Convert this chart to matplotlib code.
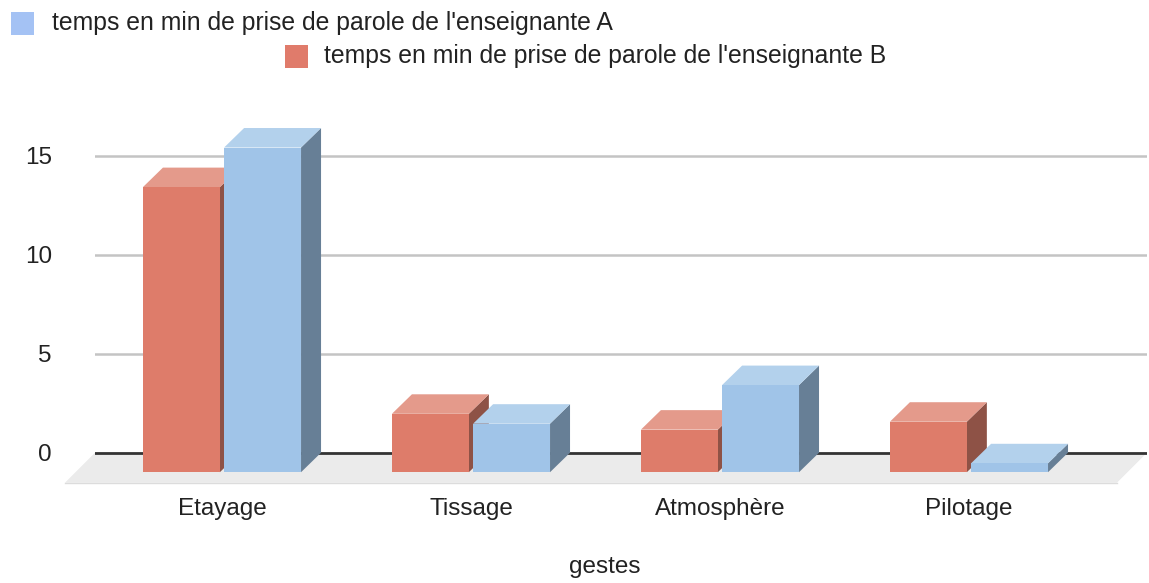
import matplotlib
matplotlib.use("Agg")
import matplotlib.pyplot as plt
from matplotlib.patches import Polygon, Rectangle
import numpy as np

plt.rcParams["font.family"] = ["Liberation Sans", "DejaVu Sans"]

# data
gestes = ["Etayage", "Tissage", "Atmosphère", "Pilotage"]
prof_a = [16.4, 2.45, 4.4, 0.45]
prof_b = [14.4, 2.95, 2.15, 2.55]
label_a = "temps en min de prise de parole de l'enseignante A"
label_b = "temps en min de prise de parole de l'enseignante B"
yticks = [0, 5, 10, 15]

# colours: front, top, side
col_a = ("#a0c4e8", "#b3d1ec", "#677f96")
col_b = ("#de7c6a", "#e49a8b", "#8e5246")

W, H = 1149, 583
fig = plt.figure(figsize=(W / 100, H / 100), dpi=100)
# axes pixel box: x 95..1147, y 110..490
ax = fig.add_axes([95 / W, (H - 490) / H, (1147 - 95) / W, 380 / H])
ax.set_xlim(-0.51, 3.715)
ax.set_ylim(-1.884, 17.31)

px_x = 1 / 249.0   # data units per pixel, x
px_y = 1 / 19.8    # data units per pixel, y
dx = 20 * px_x
dy = 19.5 * px_y
bw = 0.309
off = 0.163

# back wall gridlines
for t in yticks[1:]:
    ax.axhline(t, color="#c4c4c4", lw=1.8, zorder=1)

# floor
x0, x1 = ax.get_xlim()
fd = 30 * px_x
fy = -30 * px_y
ax.add_patch(Polygon([(x0, 0), (x1, 0), (x1 - fd, fy), (x0 - fd, fy)],
                     closed=True, fc="#ebebeb", ec="none", zorder=2, clip_on=False))
ax.plot([x0 - fd, x1 - fd], [fy, fy], color="#dcdcdc", lw=1, zorder=2, clip_on=False)
ax.axhline(0, color="#333333", lw=2, zorder=3)

x = np.arange(len(gestes))


def draw_3d(xs, vals, cols, z):
    # front face sits one depth step below the back wall
    bars = ax.bar(xs, vals, width=bw, bottom=-dy,
                  color=cols[0], zorder=z + 2, linewidth=0)
    for b, v in zip(bars, vals):
        xl = b.get_x()
        xr = xl + b.get_width()
        top = v - dy
        ax.add_patch(Polygon([(xl, top), (xr, top), (xr + dx, v), (xl + dx, v)],
                             closed=True, fc=cols[1], ec="none", zorder=z + 1))
        ax.add_patch(Polygon([(xr, -dy), (xr, top), (xr + dx, v), (xr + dx, 0)],
                             closed=True, fc=cols[2], ec="none", zorder=z))


draw_3d(x - off, prof_b, col_b, 4)
draw_3d(x + off, prof_a, col_a, 8)

for s in ax.spines.values():
    s.set_visible(False)
ax.set_yticks(yticks)
ax.set_yticklabels([str(t) for t in yticks])
ax.set_xticks(x)
ax.set_xticklabels(gestes)
ax.tick_params(axis="y", length=0, pad=31, labelsize=17.5, labelcolor="#222222")
ax.tick_params(axis="x", length=0, pad=6, labelsize=17.5, labelcolor="#222222")

fig.text(605 / W, 1 - 567 / H, "gestes", fontsize=17.5, color="#222222",
         ha="center", va="center")

# legend (two rows, offset like the original)
fig.add_artist(Rectangle((11 / W, 1 - 35 / H), 23 / W, 23 / H, transform=fig.transFigure,
                         fc="#a4c2f4", ec="none"))
fig.text(52 / W, 1 - 23 / H, label_a, fontsize=17.8, color="#222222", va="center")
fig.add_artist(Rectangle((285 / W, 1 - 68 / H), 23 / W, 23 / H, transform=fig.transFigure,
                         fc="#e07b6b", ec="none"))
fig.text(324 / W, 1 - 56 / H, label_b, fontsize=17.8, color="#222222", va="center")

fig.savefig("out.png", dpi=100)
